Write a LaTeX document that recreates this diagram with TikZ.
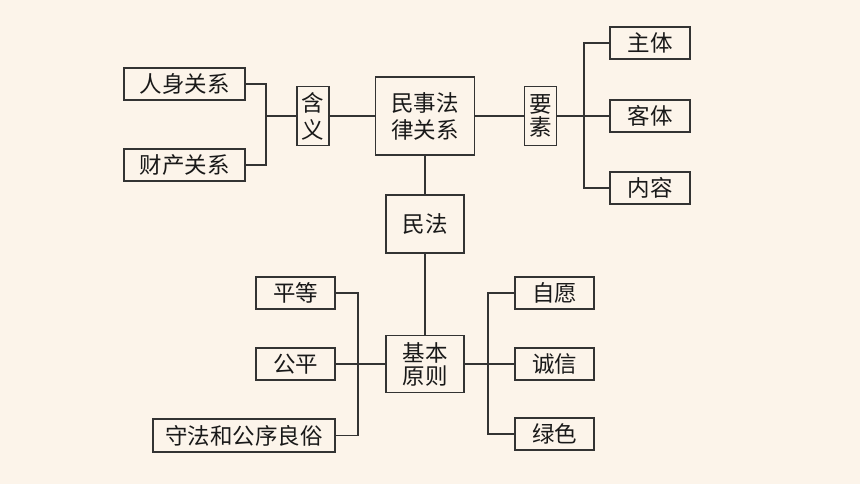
\documentclass[tikz,border=0pt]{standalone}
\usepackage{fontspec}
\usepackage{xcolor}
\usepackage{tikz}
\usetikzlibrary{positioning, calc}
\newfontfamily\cjk{Noto Sans CJK SC}
\definecolor{bgcream}{HTML}{FCF4EA}
\definecolor{linegray}{HTML}{333333}

\begin{document}
\begin{tikzpicture}[
        x=1pt, y=-1pt,
        font=\cjk\fontsize{22.5}{27}\selectfont,
        box/.style={draw=linegray, line width=1.3pt, inner sep=0pt, align=center,
            minimum height=32pt, text=black!90},
        wbox/.style={box, minimum width=79pt},
        tall/.style={box, minimum width=32pt, minimum height=59pt},
        link/.style={draw=linegray, line width=1.3pt}
    ]
        \useasboundingbox[fill=bgcream] (0,0) rectangle (860,484);

        % top row
        \node[box, minimum width=121pt] (rs) at (184.5,84) {人身关系};
        \node[box, minimum width=121pt] (cc) at (184.5,165) {财产关系};
        \node[tall] (hy) at (313,116) {含\\义};
        \node[box, minimum width=99pt, minimum height=78pt] (mr) at (425,116) {民事法\\律关系};
        \node[tall, font=\cjk\fontsize{22.5}{23}\selectfont] (ys) at (540.5,116) {要\\素};
        \node[wbox, minimum width=80pt] (zt) at (650,43) {主体};
        \node[wbox, minimum width=80pt] (kt) at (650,116) {客体};
        \node[wbox, minimum width=80pt] (nr) at (650,188) {内容};

        % middle and bottom
        \node[box, minimum width=78pt, minimum height=58pt] (mf) at (425,224) {民法};
        \node[box, minimum width=78pt, minimum height=57pt,
            font=\cjk\fontsize{22.5}{23}\selectfont] (jb) at (425,364) {基本\\原则};
        \node[wbox] (pd) at (295.5,293) {平等};
        \node[wbox] (gp) at (295.5,364) {公平};
        \node[box, minimum width=182pt, minimum height=33pt] (sf) at (244,435.5) {守法和公序良俗};
        \node[wbox] (zy) at (554.5,293) {自愿};
        \node[wbox] (cx) at (554.5,364) {诚信};
        \node[wbox] (ls) at (554.5,434) {绿色};

        \coordinate (lb) at (266,116);
        \coordinate (rb) at (584,116);
        \coordinate (lbb) at (358,364);
        \coordinate (rbb) at (488,364);

        \path[link] (rs.east) -| (lb) |- (cc.east);
        \path[link] (lb) -- (hy) -- (mr) -- (ys) -- (rb);
        \path[link] (zt.west) -| (rb) |- (nr.west);
        \path[link] (rb) -- (kt);
        \path[link] (mr) -- (mf) -- (jb);
        \path[link] (pd.east) -| (lbb) |- (sf.east);
        \path[link] (gp) -- (jb) -- (cx);
        \path[link] (zy.west) -| (rbb) |- (ls.west);
    \end{tikzpicture}
\end{document}
